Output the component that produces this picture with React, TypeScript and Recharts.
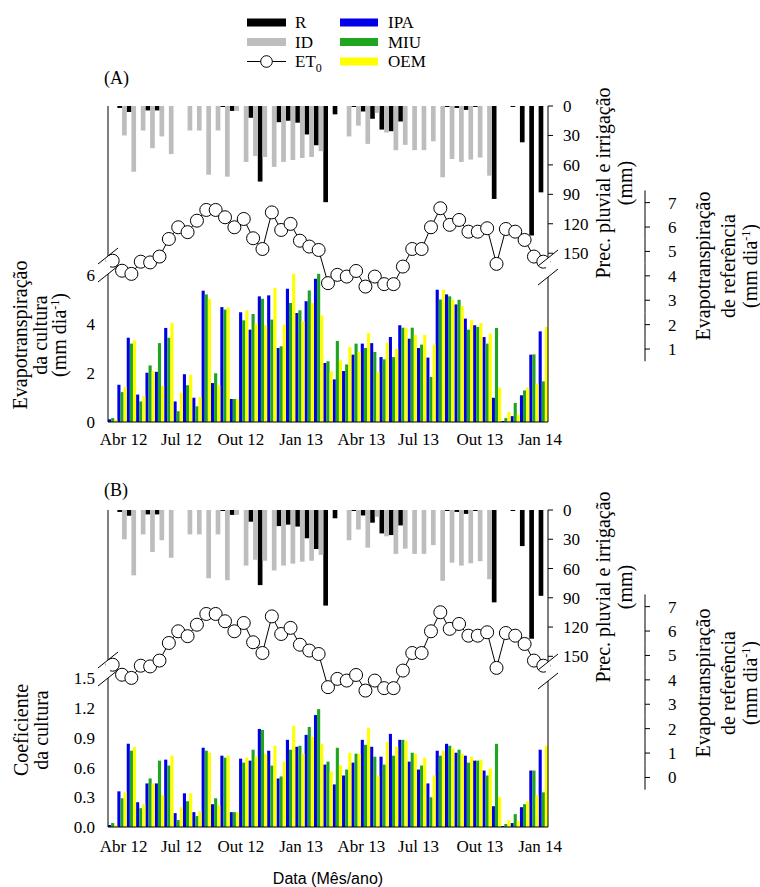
import React from "react";
import { Bar, ComposedChart, Line, XAxis, YAxis } from "recharts";

// biweekly periods, Apr 2012 - Jan 2014
const MONTH_LABELS = ["Abr 12", "Jul 12", "Out 12", "Jan 13", "Abr 13", "Jul 13", "Out 13", "Jan 14"];
const MONTH_POS = [1.63, 7.69, 13.89, 20.19, 26.49, 32.47, 38.88, 45.18];
const MARKS_A = [3, 7, 11, 15, 19, 23, 27, 31, 35, 39, 43];
const MARKS_B = [1, 5, 9, 13, 17, 21, 25, 29, 33, 37, 41, 45];

// precipitation (R) and irrigation (ID), mm
const R = [
  0, 2, 6, 0, 4.5, 4.5, 0, 0, 0, 0,
  0, 0, 1, 5, 0, 12, 77, 0, 16.5, 15,
  17, 29, 40, 98, 8.5, 0, 1, 5.6, 13, 24,
  25.7, 15.8, 0, 0, 0, 0, 1, 2, 4, 1,
  0, 94.7, 0, 1, 37, 132, 88,
];
const ID = [
  0, 30, 67, 25, 43, 31, 49, 0, 25, 25,
  70, 25, 72, 5, 57, 51, 52, 62, 57, 55,
  53, 52, 46, 0, 0, 31, 20, 38.6, 7, 27,
  45, 39.6, 45, 45, 36, 72.6, 54, 57, 54.6, 52.5,
  71, 0, 0, 0, 0, 0, 0,
];
// reference evapotranspiration, mm/day
const ET0 = [
  4.62, 4.21, 4.08, 4.58, 4.55, 4.79, 5.51, 5.99, 5.79, 6.26,
  6.7, 6.7, 6.4, 5.99, 6.33, 5.54, 5.1, 6.6, 5.88, 6.13,
  5.44, 5.2, 5.06, 3.7, 4.04, 3.97, 4.2, 3.56, 3.97, 3.66,
  3.66, 4.38, 5.1, 5.1, 5.99, 6.77, 6.09, 6.29, 5.81, 5.81,
  5.95, 4.49, 5.92, 5.81, 5.47, 4.79, 4.58,
];

// (A) crop evapotranspiration, mm/day
const IPA_A = [
  0.11, 1.52, 3.44, 1.12, 2.01, 2.05, 3.84, 0.84, 1.95, 0.99,
  5.36, 1.59, 4.69, 0.94, 4.48, 3.77, 5.13, 5.17, 3.02, 5.44,
  4.45, 4.93, 5.85, 2.41, 1.74, 2.08, 2.75, 3.2, 3.22, 2.65,
  3.47, 3.95, 3.4, 3.02, 2.63, 5.4, 5.21, 4.8, 4.22, 3.95,
  3.47, 0.99, 0.04, 0.24, 1.09, 2.75, 3.7,
];
const MIU_A = [
  0.16, 1.22, 3.2, 0.84, 2.31, 3.22, 3.44, 0.44, 1.5, 0.64,
  5.21, 1.99, 4.59, 0.94, 4.15, 4.41, 5.03, 4.18, 3.09, 4.86,
  4.56, 5.37, 6.05, 2.48, 3.31, 2.35, 3.2, 3.02, 2.86, 2.56,
  2.65, 3.85, 3.85, 3.16, 1.84, 5.0, 5.13, 4.99, 3.77, 3.88,
  3.2, 3.84, 0.16, 0.78, 1.29, 2.76, 1.66,
];
const OEM_A = [
  0.1, 1.43, 3.33, 1.06, 2.08, 1.47, 4.05, 1.2, 1.93, 1.02,
  5.03, 1.5, 4.68, 0.94, 4.56, 4.01, 3.95, 5.47, 3.97, 6.05,
  4.11, 4.86, 4.35, 2.07, 2.52, 3.06, 2.86, 3.63, 2.04, 3.24,
  2.99, 3.85, 3.56, 3.56, 3.16, 5.4, 4.99, 4.73, 4.15, 4.04,
  3.61, 1.4, 0.41, 0.3, 1.4, 1.56, 3.88,
];

// (B) crop coefficient
const IPA_B = [
  0.02, 0.36, 0.84, 0.25, 0.44, 0.44, 0.68, 0.14, 0.34, 0.15,
  0.8, 0.23, 0.72, 0.15, 0.69, 0.67, 0.99, 0.77, 0.49, 0.88,
  0.81, 0.93, 1.13, 0.63, 0.43, 0.52, 0.65, 0.88, 0.81, 0.71,
  0.94, 0.88, 0.66, 0.58, 0.44, 0.77, 0.84, 0.75, 0.72, 0.67,
  0.57, 0.21, 0.01, 0.04, 0.2, 0.57, 0.78,
];
const MIU_B = [
  0.04, 0.29, 0.77, 0.19, 0.49, 0.67, 0.62, 0.07, 0.26, 0.11,
  0.77, 0.29, 0.7, 0.15, 0.65, 0.78, 0.98, 0.62, 0.51, 0.78,
  0.82, 1.01, 1.19, 0.66, 0.8, 0.58, 0.74, 0.83, 0.71, 0.63,
  0.72, 0.88, 0.75, 0.62, 0.3, 0.72, 0.82, 0.78, 0.65, 0.67,
  0.52, 0.84, 0.03, 0.13, 0.23, 0.57, 0.35,
];
const OEM_B = [
  0.02, 0.35, 0.81, 0.23, 0.44, 0.32, 0.72, 0.2, 0.34, 0.16,
  0.75, 0.22, 0.72, 0.15, 0.7, 0.71, 0.74, 0.82, 0.66, 1.02,
  0.74, 0.91, 0.84, 0.56, 0.62, 0.75, 0.74, 1.0, 0.52, 0.86,
  0.81, 0.87, 0.74, 0.7, 0.52, 0.77, 0.79, 0.74, 0.71, 0.68,
  0.59, 0.3, 0.07, 0.06, 0.26, 0.32, 0.82,
];

const P_TICKS = [0, 30, 60, 90, 120, 150];

const N = ET0.length;
const PLOT_W = 440;
const BAND = PLOT_W / N;
const SERIF = "'Liberation Serif', 'Times New Roman', serif";
const GRAY = "#bdbdbd";
const CROP_SERIES = [
  { key: "IPA", color: "#0000e8" },
  { key: "MIU", color: "#1fa51f" },
  { key: "OEM", color: "#ffff00" },
];
const RAIN_SERIES = [
  { key: "R", color: "#000" },
  { key: "ID", color: GRAY },
];

const buildRows = (ipa: number[], miu: number[], oem: number[]) =>
  ET0.map((et0, t) => ({ t, R: R[t], ID: ID[t], ET0: et0, IPA: ipa[t], MIU: miu[t], OEM: oem[t] }));

const tickStyle = { fill: "#000", fontSize: 17, fontFamily: SERIF };

const Et0Tick = (props: any) => {
  const { x, y, payload, step } = props;
  return (
    <g>
      <line x1={x} x2={x} y1={y - step / 2} y2={y + step / 2} stroke="#000" />
      <line x1={x} x2={x + 5} y1={y} y2={y} stroke="#000" />
      <text x={x + 23} y={y} dy="0.35em" fill="#000" fontSize={17} fontFamily={SERIF}>
        {payload.value}
      </text>
    </g>
  );
};

type PanelProps = {
  top: number;
  height: number;
  plotTop: number;
  plotBottom: number;
  rows: ReturnType<typeof buildRows>;
  leftDomain: [number, number];
  leftTicks: number[];
  leftFmt: (v: number) => string;
  pDomain: [number, number];
  et0Domain: [number, number];
  et0Ticks: number[];
  marks: number[];
  labelGap: number;
};

// axis ids are named so that their sort order is also their stacking order
const Panel = (p: PanelProps) => {
  const plotH = p.plotBottom - p.plotTop;
  const et0Step = plotH / (p.et0Domain[1] - p.et0Domain[0]);
  const axisH = 6 + 26;
  return (
    <div style={{ position: "absolute", left: 0, top: p.top }}>
      <ComposedChart
        width={760}
        height={p.height}
        data={p.rows}
        margin={{ top: p.plotTop - p.top, right: 0, left: 0, bottom: p.top + p.height - p.plotBottom - axisH }}
        barCategoryGap={0}
        barGap={0}
      >
        <XAxis xAxisId="t0" dataKey="t" orientation="top" height={0} tick={false} tickLine={false} stroke="#000" />
        <XAxis xAxisId="b0" dataKey="t" height={0} hide />
        <XAxis
          xAxisId="b1"
          type="number"
          domain={[0, N]}
          allowDataOverflow
          ticks={p.marks.map((i) => i + 0.5)}
          interval={0}
          tick={false}
          tickSize={5}
          height={6}
          stroke="#000"
        />
        <XAxis
          xAxisId="b2"
          type="number"
          domain={[0, N]}
          allowDataOverflow
          ticks={MONTH_POS}
          interval={0}
          tickFormatter={(v: number) => MONTH_LABELS[MONTH_POS.indexOf(v)]}
          axisLine={false}
          tickLine={false}
          tickSize={0}
          tickMargin={p.labelGap}
          height={26}
          tick={tickStyle}
        />
        <YAxis
          yAxisId="l1"
          orientation="left"
          width={108}
          domain={p.leftDomain}
          allowDataOverflow
          ticks={p.leftTicks}
          interval={0}
          tickFormatter={p.leftFmt}
          tickLine={false}
          tickSize={0}
          tickMargin={13}
          stroke="#000"
          tick={tickStyle}
        />
        <YAxis
          yAxisId="r1"
          orientation="right"
          width={97}
          reversed
          domain={p.pDomain}
          allowDataOverflow
          ticks={P_TICKS}
          interval={0}
          tickSize={5}
          tickMargin={10}
          stroke="#000"
          tick={tickStyle}
        />
        <YAxis
          yAxisId="r2"
          orientation="right"
          width={115}
          domain={p.et0Domain}
          allowDataOverflow
          ticks={p.et0Ticks}
          interval={0}
          axisLine={false}
          tickLine={false}
          tickSize={0}
          tickMargin={0}
          tick={(tp: any) => <Et0Tick {...tp} step={et0Step} />}
        />
        {RAIN_SERIES.map((s) => (
          <Bar
            key={s.key}
            xAxisId="t0"
            yAxisId="r1"
            dataKey={s.key}
            fill={s.color}
            barSize={BAND / 2 - 0.001}
            isAnimationActive={false}
          />
        ))}
        {CROP_SERIES.map((s) => (
          <Bar
            key={s.key}
            xAxisId="b0"
            yAxisId="l1"
            dataKey={s.key}
            fill={s.color}
            barSize={BAND / 3 - 0.001}
            isAnimationActive={false}
          />
        ))}
        <Line
          xAxisId="b0"
          yAxisId="r2"
          dataKey="ET0"
          type="linear"
          stroke="#000"
          strokeWidth={1}
          dot={{ r: 6.5, fill: "#fff", stroke: "#000", strokeWidth: 1 }}
          isAnimationActive={false}
        />
      </ComposedChart>
    </div>
  );
};

const Break = ({ x, y1, y2 }: { x: number; y1: number; y2: number }) => (
  <g>
    <rect x={x - 2} y={y1} width={4} height={y2 - y1} fill="#fff" />
    <line x1={x - 10} y1={y1 + 8} x2={x + 10} y2={y1 - 8} stroke="#000" />
    <line x1={x - 10} y1={y2 + 8} x2={x + 10} y2={y2 - 8} stroke="#000" />
  </g>
);

const VText = ({ x, y, size = 20, children }: { x: number; y: number; size?: number; children: React.ReactNode }) => (
  <text transform={`translate(${x},${y}) rotate(-90)`} textAnchor="middle" fontSize={size} fontFamily={SERIF} fill="#000">
    {children}
  </text>
);

const PerDay = () => (
  <>
    (mm dia
    <tspan dy={-7} fontSize={12}>-1</tspan>
    <tspan dy={7}>)</tspan>
  </>
);

export default function App() {
  const rowsA = buildRows(IPA_A, MIU_A, OEM_A);
  const rowsB = buildRows(IPA_B, MIU_B, OEM_B);
  return (
    <div style={{ position: "absolute", left: 0, top: 0, width: 760, height: 887, background: "#fff", fontFamily: SERIF }}>
      <Panel
        top={0}
        height={460}
        plotTop={106}
        plotBottom={422}
        rows={rowsA}
        leftDomain={[0, 12.9]}
        leftTicks={[0, 2, 4, 6]}
        leftFmt={(v) => String(v)}
        pDomain={[0, 322]}
        et0Domain={[-1.99, 10.96]}
        et0Ticks={[1, 2, 3, 4, 5, 6, 7]}
        marks={MARKS_A}
        labelGap={5}
      />
      <Panel
        top={420}
        height={460}
        plotTop={510}
        plotBottom={827}
        rows={rowsB}
        leftDomain={[0, 3.2]}
        leftTicks={[0, 0.3, 0.6, 0.9, 1.2, 1.5]}
        leftFmt={(v) => v.toFixed(1)}
        pDomain={[0, 325]}
        et0Domain={[-2.03, 10.96]}
        et0Ticks={[0, 1, 2, 3, 4, 5, 6, 7]}
        marks={MARKS_B}
        labelGap={7}
      />
      <svg width={760} height={887} style={{ position: "absolute", left: 0, top: 0, pointerEvents: "none" }}>
        {/* legend */}
        <g fontFamily={SERIF} fontSize={17} fill="#000">
          {RAIN_SERIES.map((s, i) => (
            <g key={s.key}>
              <rect x={247} y={18.5 + i * 19.5} width={39} height={8} fill={s.color} />
              <text x={295} y={28 + i * 19.5}>{s.key}</text>
            </g>
          ))}
          <line x1={247} x2={286} y1={61.5} y2={61.5} stroke="#000" />
          <circle cx={266.5} cy={61.5} r={5.8} fill="#fff" stroke="#000" />
          <text x={295} y={67}>
            ET<tspan dy={5} fontSize={12}>0</tspan>
          </text>
          {CROP_SERIES.map((s, i) => (
            <g key={s.key}>
              <rect x={340} y={18.5 + i * 19.5} width={38} height={8} fill={s.color} />
              <text x={388} y={28 + i * 19.5}>{s.key}</text>
            </g>
          ))}
        </g>
        <text x={104} y={84} fontSize={18} fontFamily={SERIF}>(A)</text>
        <text x={104} y={496} fontSize={18} fontFamily={SERIF}>(B)</text>

        {/* axis breaks */}
        <Break x={108} y1={256} y2={274} />
        <Break x={548} y1={258} y2={277} />
        <Break x={108} y1={660} y2={678} />
        <Break x={548} y1={662} y2={681} />

        {/* axis titles */}
        <VText x={27} y={335}>Evapotranspiração</VText>
        <VText x={47} y={335}>da cultura</VText>
        <VText x={66} y={335}><PerDay /></VText>
        <VText x={610} y={183}>Prec. pluvial e irrigação</VText>
        <VText x={632} y={183}>(mm)</VText>
        <VText x={710} y={266}>Evapotranspiração</VText>
        <VText x={735} y={266}>de referência</VText>
        <VText x={757} y={266}><PerDay /></VText>

        <VText x={28} y={730}>Coeficiente</VText>
        <VText x={48} y={730}>da cultura</VText>
        <VText x={610} y={587}>Prec. pluvial e irrigação</VText>
        <VText x={632} y={587}>(mm)</VText>
        <VText x={710} y={683}>Evapotranspiração</VText>
        <VText x={735} y={683}>de referência</VText>
        <VText x={757} y={683}><PerDay /></VText>

        <text x={328} y={884} textAnchor="middle" fontSize={16} fontFamily="'Liberation Sans', Arial, sans-serif">
          Data (Mês/ano)
        </text>
      </svg>
    </div>
  );
}
